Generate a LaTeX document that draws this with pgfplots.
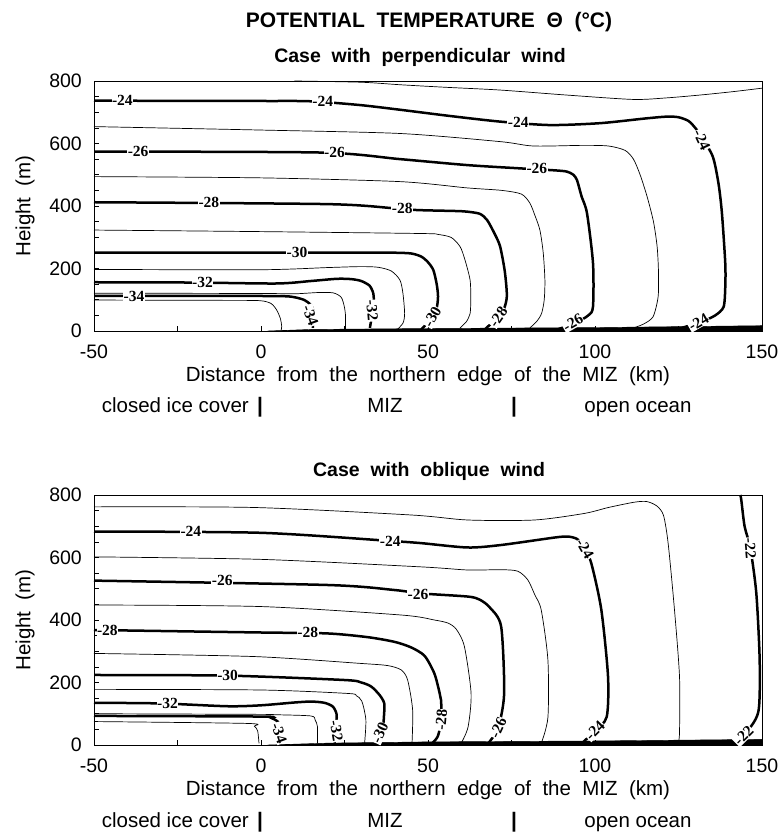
\documentclass[border=0pt]{standalone}
\usepackage{pgfplots}
\pgfplotsset{compat=1.18}
\usepackage{fontspec}
\setmainfont{Liberation Sans}
\newfontfamily\labfont{Liberation Serif}
\newcommand{\cl}{\labfont\bfseries\fontsize{15.5}{16}\selectfont}
\tikzset{lb/.style={fill=white, inner sep=0.5pt, font=\cl}}
\begin{document}
\begin{tikzpicture}[x=1pt,y=1pt]
\useasboundingbox (0,0) rectangle (778,832);
\pgfplotsset{
  mystyle/.style={
    scale only axis, width=668pt, height=250pt,
    xmin=-50,xmax=150,ymin=0,ymax=800,
    xtick={-50,0,50,100,150}, ytick={0,200,400,600,800},
    minor x tick num=1, minor y tick num=3,
    tick align=inside, xtick pos=bottom, ytick pos=left,
    major tick length=5pt, minor tick length=5pt,
    tick style={black, line width=0.5pt},
    axis line style={line width=0.7pt},
    ticklabel style={font=\fontsize{19.5}{21}\selectfont, inner sep=0pt},
    xticklabel style={anchor=north, yshift=-14pt},
    yticklabel style={anchor=east, xshift=-12pt},
    /pgf/number format/assume math mode=true,
    xlabel={Distance\ \ from\ \ the\ \ northern\ \ edge\ \ of\ \ the\ \ MIZ\ \ (km)},
    ylabel={Height\ \ (m)},
    label style={font=\fontsize{20.5}{22}\selectfont, inner sep=0pt},
    xlabel style={at={(axis description cs:0.5,-0.204)}, anchor=base},
    ylabel style={at={(axis description cs:-0.103,0.5)}, anchor=center},
    clip=false,
  },
  th/.style={line width=2.5pt, black, smooth, tension=0.45},
  tn/.style={line width=0.7pt, black, smooth, tension=0.45},
}
% ---------------- TOP PANEL ----------------
\begin{axis}[mystyle, at={(94pt,501pt)}, anchor=south west]
% thin contours
\addplot[tn] coordinates {(10,800) (30,796) (41.6,788) (55,780) (71.6,771) (91.5,755) (111.4,741) (121.5,746) (131.4,755) (141.4,766) (150,777)};
\addplot[tn] coordinates {(-50,654) (0,643) (41.6,632) (71.6,606) (81.5,592) (96.4,594) (104,592) (109,578) (111.5,550) (113.5,500) (115.6,430) (117.5,350) (118.6,270) (119,190) (118.9,110) (117.4,46) (114.5,22) (111,8)};
\addplot[tn] coordinates {(-50,494) (0,490) (41.6,478) (61.6,458) (72,450) (78,438) (80.5,409) (82,370) (83.5,323) (84.5,250) (85,163) (84.8,100) (84,56) (82.5,30) (80.5,10)};
\addplot[tn] coordinates {(-50,323) (0,318) (47.6,312) (53,309) (57,299) (59.6,270) (61,230) (62.6,163) (62.8,100) (62.6,56) (61.5,30) (59.6,10)};
\addplot[tn] coordinates {(-50,197) (0,196) (20,203) (29.6,206) (35,204) (39,192) (41.6,163) (42.5,120) (43,56) (42.5,25) (40.6,3)};
\addplot[tn] coordinates {(-50,121) (0,120) (10,119) (17,123) (21.6,122) (24,108) (24.9,80) (25.3,50) (25.3,5)};
\addplot[tn] coordinates {(-50,99) (-10,98) (-0.3,97) (3,88) (4.7,67) (5.8,40) (6.2,14) (6,2)};
% thick contours
\addplot[th] coordinates {(-50,737) (0,736) (15,735) (29.6,723) (41.6,708) (56.6,688) (71.6,670) (86.5,659) (101.5,665) (115,680) (121.5,686) (125,684) (128,672) (130,650) (132,620) (135.3,557) (137,470) (138,377) (139,217) (139,140) (138.5,77) (136,50) (132,30) (126,10)};
\addplot[th] coordinates {(-50,574) (18,571) (41.6,550) (61.6,531) (76.6,521) (88,514) (91.6,510) (93.5,500) (94.6,483) (96,430) (97.6,377) (99.4,217) (99.4,78) (98,50) (94,25) (89,6)};
\addplot[th] coordinates {(-50,412) (19.8,406) (39.5,393) (46.7,387) (58,384) (61.6,382) (65.5,375) (67.7,355) (70,310) (71.6,270) (73,190) (73.6,110) (72.5,65) (70,35) (67,5)};
\addplot[th] coordinates {(-50,251) (0,251) (30,251) (40,250.5) (45,248) (48,238) (50,220) (51.6,195) (52.6,150) (53,110) (52.5,70) (50.5,35) (48,5)};
\addplot[th] coordinates {(-50,156) (-20,155) (4.7,152) (15,160) (22.7,167) (27,166) (30,160) (32.5,145) (33.6,121) (33.8,90) (33.5,65) (33,35) (32.6,10)};
\addplot[th] coordinates {(-50,112) (-10,112) (0,112) (7.7,111) (10.5,107) (13,99) (14.8,85) (15.6,67) (15.6,40) (15.5,10)};
% surface band
\addplot[fill=black, draw=black] coordinates {(2,0) (15,5) (50,8) (100,11) (150,17) (150,0)} -- cycle;
% labels
\node[lb] at (axis cs:-41.5,737) {-24};
\node[lb] at (axis cs:18.5,735) {-24};
\node[lb] at (axis cs:77,666) {-24};
\node[lb, rotate=-65] at (axis cs:132,612) {-24};
\node[lb, rotate=30] at (axis cs:131,28) {-24};
\node[lb] at (axis cs:-36.8,574) {-26};
\node[lb] at (axis cs:22,571) {-26};
\node[lb] at (axis cs:82.6,521) {-26};
\node[lb, rotate=30] at (axis cs:93.4,26) {-26};
\node[lb] at (axis cs:-15.6,412) {-28};
\node[lb] at (axis cs:42.3,391) {-28};
\node[lb, rotate=55] at (axis cs:71,45) {-28};
\node[lb] at (axis cs:10.8,251) {-30};
\node[lb, rotate=60] at (axis cs:51.3,45) {-30};
\node[lb] at (axis cs:-17.5,155) {-32};
\node[lb, rotate=-85] at (axis cs:33.3,65) {-32};
\node[lb] at (axis cs:-38,112) {-34};
\node[lb, rotate=-70] at (axis cs:14.8,50) {-34};
\end{axis}
% ---------------- BOTTOM PANEL ----------------
\begin{axis}[mystyle, at={(94pt,87pt)}, anchor=south west]
% thin contours
\addplot[tn] coordinates {(-50,762) (-2,760) (45,736) (61.9,720) (81.9,720) (96.8,741) (104,760) (111.8,777) (115.5,779) (118.5,765) (120.5,735) (121.9,645) (123.8,432) (125.3,219) (125.3,40) (124.9,5)};
\addplot[tn] coordinates {(-50,602) (0,594) (47.9,570) (61.9,560) (72,561) (76.9,556) (79.9,528) (82,480) (83.9,432) (85.9,272) (85.9,88) (83.9,5)};
\addplot[tn] coordinates {(-50,448) (0,443) (41.9,416) (51.9,400) (56,390) (58.5,370) (60.9,315) (62.9,165) (62,58) (59.9,5)};
\addplot[tn] coordinates {(-50,293) (-2,283) (29.9,261) (38,254) (42,240) (43.9,208) (45.4,112) (45.2,2)};
\addplot[tn] coordinates {(-50,178) (0,176) (25.9,165) (28.5,158) (30.2,140) (31.4,80) (31,3)};
\addplot[tn] coordinates {(-50,100) (0,98) (3.9,97) (14.9,93) (16.2,80) (16.9,59) (16.9,5)};
\addplot[tn] coordinates {(-50,75) (-4.1,69) (-2,60) (-1,45) (-0.6,5)};
% thick contours
\addplot[th] coordinates {(143.5,800) (143.8,784) (144.8,699) (146.5,630) (148.3,485) (149.3,272) (149,112) (146,50) (141,5)};
\addplot[th] coordinates {(-50,683) (0,679) (38.7,653) (47.9,646) (61.9,632) (71.9,640) (88,664) (91.9,667) (94.5,660) (96.5,640) (98.9,581) (101.9,432) (103.9,219) (103.5,90) (100,45) (96,5)};
\addplot[th] coordinates {(-50,526) (19.9,512) (39.9,496) (47.9,485) (61.9,475) (65.5,465) (68.5,440) (71.9,379) (72.8,165) (71,55) (68,5)};
\addplot[th] coordinates {(-50,368) (0,360) (19.9,357) (32,345) (40,330) (45,312) (49,285) (51.9,229) (53.4,170) (53.9,144) (54,80) (52.9,27) (51,3)};
\addplot[th] coordinates {(-50,224) (-10,222) (24.9,208) (30,200) (33,187) (35.5,160) (36.9,133) (36.8,90) (36.5,60) (35,5)};
\addplot[th] coordinates {(-50,135) (-30,133) (-10,124) (0,127) (10,136) (15,139) (19,135) (21.5,123) (22.6,100) (22.6,70) (22,5)};
\addplot[th] coordinates {(-50,93) (-0.1,91) (3,87) (5,75) (5.9,59) (5.5,5)};
% surface band
\addplot[fill=black, draw=black] coordinates {(2,0) (20,6) (50,10) (100,13) (150,18) (150,0)} -- cycle;
% labels
\node[lb] at (axis cs:-21,683) {-24};
\node[lb] at (axis cs:38.7,653) {-24};
\node[lb, rotate=-60] at (axis cs:97,628) {-24};
\node[lb, rotate=45] at (axis cs:100,46) {-24};
\node[lb] at (axis cs:-11.6,526) {-26};
\node[lb] at (axis cs:47,483) {-26};
\node[lb, rotate=65] at (axis cs:71,55) {-26};
\node[lb] at (axis cs:-46,368) {-28};
\node[lb] at (axis cs:14,360) {-28};
\node[lb, rotate=85] at (axis cs:54,80) {-28};
\node[lb] at (axis cs:-10,222) {-30};
\node[lb, rotate=65] at (axis cs:35.6,38) {-30};
\node[lb] at (axis cs:-28,133) {-32};
\node[lb, rotate=-80] at (axis cs:22.6,45) {-32};
\node[lb, rotate=-70] at (axis cs:5.4,38) {-34};
\node[lb, rotate=-85] at (axis cs:146.5,630) {-22};
\node[lb, rotate=45] at (axis cs:144.5,30) {-22};
\end{axis}
% titles
\node[font=\bfseries\fontsize{21}{24}\selectfont, anchor=base] at (429,804) {POTENTIAL\ \ TEMPERATURE\ \ Θ\ \ (°C)};
\node[font=\bfseries\fontsize{19.5}{22}\selectfont, anchor=base] at (420,769) {Case\ \ with\ \ perpendicular\ \ wind};
\node[font=\bfseries\fontsize{19.5}{22}\selectfont, anchor=base] at (429,355) {Case\ \ with\ \ oblique\ \ wind};
% region labels
\foreach \yy in {419,5} {
  \node[font=\fontsize{20.5}{22}\selectfont, anchor=base east, inner sep=0pt] at (249,\yy) {closed ice cover};
  \node[font=\fontsize{20.5}{22}\selectfont, anchor=base, inner sep=0pt] at (385,\yy) {MIZ};
  \node[font=\fontsize{20.5}{22}\selectfont, anchor=base, inner sep=0pt] at (638,\yy) {open ocean};
  \node[font=\bfseries\fontsize{21}{22}\selectfont, anchor=base, inner sep=0pt] at (260,\yy) {|};
  \node[font=\bfseries\fontsize{21}{22}\selectfont, anchor=base, inner sep=0pt] at (514,\yy) {|};
}
\end{tikzpicture}
\end{document}
